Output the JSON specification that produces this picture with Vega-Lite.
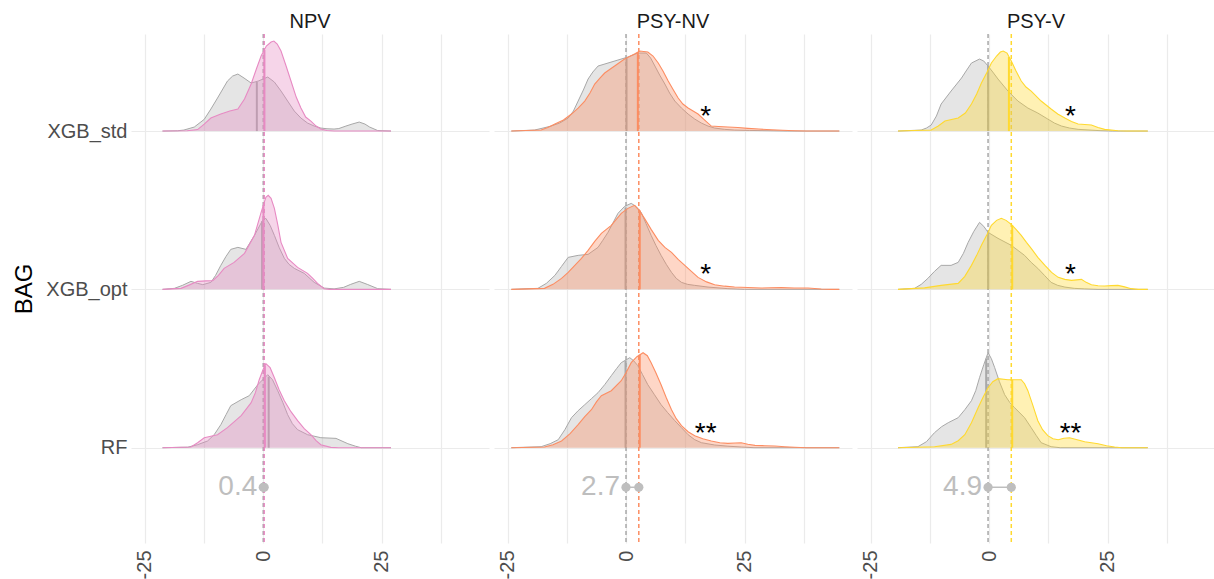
{
  "$schema": "https://vega.github.io/schema/vega-lite/v6.json",
  "padding": {"left": 12, "top": 12, "right": 0, "bottom": 0},
  "background": "white",
  "config": {"font": "Liberation Sans", "view": {"stroke": null}},
  "data": {"values": [
    {"t":"mean","p":"NPV","g":"control","x":0.05},
    {"t":"mean","p":"NPV","g":"NPV","x":0.25},
    {"t":"mean","p":"PSY-NV","g":"control","x":0},
    {"t":"mean","p":"PSY-NV","g":"PSY-NV","x":2.7},
    {"t":"mean","p":"PSY-V","g":"control","x":-0.2},
    {"t":"mean","p":"PSY-V","g":"PSY-V","x":4.7},
    {"t":"diff","p":"NPV","x":0.05,"x2":0.25,"lab":"0.4"},
    {"t":"diff","p":"PSY-NV","x":0,"x2":2.7,"lab":"2.7"},
    {"t":"diff","p":"PSY-V","x":-0.2,"x2":4.7,"lab":"4.9"},
    {"t":"sig","p":"PSY-NV","m":"XGB_std","x":16.8,"lab":"*"},
    {"t":"sig","p":"PSY-NV","m":"XGB_opt","x":16.8,"lab":"*"},
    {"t":"sig","p":"PSY-NV","m":"RF","x":16.8,"lab":"**"},
    {"t":"sig","p":"PSY-V","m":"XGB_std","x":17.2,"lab":"*"},
    {"t":"sig","p":"PSY-V","m":"XGB_opt","x":17.2,"lab":"*"},
    {"t":"sig","p":"PSY-V","m":"RF","x":17.2,"lab":"**"},
    {"t":"med","p":"NPV","m":"XGB_std","g":"control","x":-1.3,"d":49},
    {"t":"med","p":"NPV","m":"XGB_std","g":"NPV","x":0.3,"d":81},
    {"t":"med","p":"NPV","m":"XGB_opt","g":"control","x":-0.2,"d":68},
    {"t":"med","p":"NPV","m":"XGB_opt","g":"NPV","x":0.1,"d":84},
    {"t":"med","p":"NPV","m":"RF","g":"control","x":1.2,"d":71},
    {"t":"med","p":"NPV","m":"RF","g":"NPV","x":0.4,"d":82},
    {"t":"med","p":"PSY-NV","m":"XGB_std","g":"control","x":0.1,"d":73},
    {"t":"med","p":"PSY-NV","m":"XGB_std","g":"PSY-NV","x":2.5,"d":79},
    {"t":"med","p":"PSY-NV","m":"XGB_opt","g":"control","x":-0.1,"d":82},
    {"t":"med","p":"PSY-NV","m":"XGB_opt","g":"PSY-NV","x":2.9,"d":79},
    {"t":"med","p":"PSY-NV","m":"RF","g":"control","x":-0.1,"d":87},
    {"t":"med","p":"PSY-NV","m":"RF","g":"PSY-NV","x":2.9,"d":93},
    {"t":"med","p":"PSY-V","m":"XGB_std","g":"control","x":-0.2,"d":65},
    {"t":"med","p":"PSY-V","m":"XGB_std","g":"PSY-V","x":4.2,"d":74},
    {"t":"med","p":"PSY-V","m":"XGB_opt","g":"control","x":-0.2,"d":57},
    {"t":"med","p":"PSY-V","m":"XGB_opt","g":"PSY-V","x":4.9,"d":64},
    {"t":"med","p":"PSY-V","m":"RF","g":"control","x":-0.6,"d":89},
    {"t":"med","p":"PSY-V","m":"RF","g":"PSY-V","x":4.9,"d":68},

    {"t":"d","p":"NPV","m":"XGB_std","g":"control","x":-21.2,"d":0},
    {"t":"d","p":"NPV","m":"XGB_std","g":"control","x":-18,"d":0.3},
    {"t":"d","p":"NPV","m":"XGB_std","g":"control","x":-16.7,"d":1},
    {"t":"d","p":"NPV","m":"XGB_std","g":"control","x":-14.5,"d":4},
    {"t":"d","p":"NPV","m":"XGB_std","g":"control","x":-12.4,"d":11.7},
    {"t":"d","p":"NPV","m":"XGB_std","g":"control","x":-11,"d":22},
    {"t":"d","p":"NPV","m":"XGB_std","g":"control","x":-9.6,"d":33},
    {"t":"d","p":"NPV","m":"XGB_std","g":"control","x":-7.5,"d":50},
    {"t":"d","p":"NPV","m":"XGB_std","g":"control","x":-6.4,"d":55},
    {"t":"d","p":"NPV","m":"XGB_std","g":"control","x":-5.3,"d":57},
    {"t":"d","p":"NPV","m":"XGB_std","g":"control","x":-4,"d":53},
    {"t":"d","p":"NPV","m":"XGB_std","g":"control","x":-2.5,"d":48},
    {"t":"d","p":"NPV","m":"XGB_std","g":"control","x":-1,"d":50},
    {"t":"d","p":"NPV","m":"XGB_std","g":"control","x":1,"d":54},
    {"t":"d","p":"NPV","m":"XGB_std","g":"control","x":2.4,"d":49},
    {"t":"d","p":"NPV","m":"XGB_std","g":"control","x":3.8,"d":40},
    {"t":"d","p":"NPV","m":"XGB_std","g":"control","x":5.2,"d":30},
    {"t":"d","p":"NPV","m":"XGB_std","g":"control","x":6.6,"d":20},
    {"t":"d","p":"NPV","m":"XGB_std","g":"control","x":8,"d":13},
    {"t":"d","p":"NPV","m":"XGB_std","g":"control","x":9.4,"d":8},
    {"t":"d","p":"NPV","m":"XGB_std","g":"control","x":10.8,"d":5},
    {"t":"d","p":"NPV","m":"XGB_std","g":"control","x":12.2,"d":3},
    {"t":"d","p":"NPV","m":"XGB_std","g":"control","x":13.5,"d":2.3},
    {"t":"d","p":"NPV","m":"XGB_std","g":"control","x":15,"d":2},
    {"t":"d","p":"NPV","m":"XGB_std","g":"control","x":16,"d":2.5},
    {"t":"d","p":"NPV","m":"XGB_std","g":"control","x":17.5,"d":5},
    {"t":"d","p":"NPV","m":"XGB_std","g":"control","x":18.8,"d":7},
    {"t":"d","p":"NPV","m":"XGB_std","g":"control","x":20.3,"d":9},
    {"t":"d","p":"NPV","m":"XGB_std","g":"control","x":21.5,"d":7},
    {"t":"d","p":"NPV","m":"XGB_std","g":"control","x":22.5,"d":4},
    {"t":"d","p":"NPV","m":"XGB_std","g":"control","x":24.2,"d":0.5},
    {"t":"d","p":"NPV","m":"XGB_std","g":"control","x":27,"d":0},

    {"t":"d","p":"NPV","m":"XGB_std","g":"NPV","x":-21.2,"d":0},
    {"t":"d","p":"NPV","m":"XGB_std","g":"NPV","x":-16,"d":0.3},
    {"t":"d","p":"NPV","m":"XGB_std","g":"NPV","x":-13.8,"d":1.5},
    {"t":"d","p":"NPV","m":"XGB_std","g":"NPV","x":-12.4,"d":7},
    {"t":"d","p":"NPV","m":"XGB_std","g":"NPV","x":-11,"d":13},
    {"t":"d","p":"NPV","m":"XGB_std","g":"NPV","x":-8.9,"d":17},
    {"t":"d","p":"NPV","m":"XGB_std","g":"NPV","x":-7,"d":20},
    {"t":"d","p":"NPV","m":"XGB_std","g":"NPV","x":-5.3,"d":22},
    {"t":"d","p":"NPV","m":"XGB_std","g":"NPV","x":-3.9,"d":32},
    {"t":"d","p":"NPV","m":"XGB_std","g":"NPV","x":-2.5,"d":47},
    {"t":"d","p":"NPV","m":"XGB_std","g":"NPV","x":-1.4,"d":62},
    {"t":"d","p":"NPV","m":"XGB_std","g":"NPV","x":-0.4,"d":75},
    {"t":"d","p":"NPV","m":"XGB_std","g":"NPV","x":0.7,"d":85},
    {"t":"d","p":"NPV","m":"XGB_std","g":"NPV","x":1.7,"d":89},
    {"t":"d","p":"NPV","m":"XGB_std","g":"NPV","x":2.3,"d":90},
    {"t":"d","p":"NPV","m":"XGB_std","g":"NPV","x":3,"d":87},
    {"t":"d","p":"NPV","m":"XGB_std","g":"NPV","x":3.8,"d":80},
    {"t":"d","p":"NPV","m":"XGB_std","g":"NPV","x":4.8,"d":66},
    {"t":"d","p":"NPV","m":"XGB_std","g":"NPV","x":5.9,"d":50},
    {"t":"d","p":"NPV","m":"XGB_std","g":"NPV","x":7,"d":34},
    {"t":"d","p":"NPV","m":"XGB_std","g":"NPV","x":8,"d":23},
    {"t":"d","p":"NPV","m":"XGB_std","g":"NPV","x":9,"d":14},
    {"t":"d","p":"NPV","m":"XGB_std","g":"NPV","x":10.1,"d":10},
    {"t":"d","p":"NPV","m":"XGB_std","g":"NPV","x":11.2,"d":5},
    {"t":"d","p":"NPV","m":"XGB_std","g":"NPV","x":12.2,"d":2},
    {"t":"d","p":"NPV","m":"XGB_std","g":"NPV","x":13.5,"d":0.5},
    {"t":"d","p":"NPV","m":"XGB_std","g":"NPV","x":15,"d":0},
    {"t":"d","p":"NPV","m":"XGB_std","g":"NPV","x":27,"d":0},

    {"t":"d","p":"NPV","m":"XGB_opt","g":"control","x":-21.2,"d":0},
    {"t":"d","p":"NPV","m":"XGB_opt","g":"control","x":-18.7,"d":1},
    {"t":"d","p":"NPV","m":"XGB_opt","g":"control","x":-17,"d":4},
    {"t":"d","p":"NPV","m":"XGB_opt","g":"control","x":-15.2,"d":8},
    {"t":"d","p":"NPV","m":"XGB_opt","g":"control","x":-13.8,"d":6},
    {"t":"d","p":"NPV","m":"XGB_opt","g":"control","x":-12.7,"d":4.7},
    {"t":"d","p":"NPV","m":"XGB_opt","g":"control","x":-11,"d":7},
    {"t":"d","p":"NPV","m":"XGB_opt","g":"control","x":-10,"d":14},
    {"t":"d","p":"NPV","m":"XGB_opt","g":"control","x":-8.9,"d":24},
    {"t":"d","p":"NPV","m":"XGB_opt","g":"control","x":-7.8,"d":33},
    {"t":"d","p":"NPV","m":"XGB_opt","g":"control","x":-6.8,"d":40},
    {"t":"d","p":"NPV","m":"XGB_opt","g":"control","x":-5.3,"d":42},
    {"t":"d","p":"NPV","m":"XGB_opt","g":"control","x":-3.6,"d":40},
    {"t":"d","p":"NPV","m":"XGB_opt","g":"control","x":-1.8,"d":54},
    {"t":"d","p":"NPV","m":"XGB_opt","g":"control","x":-0.1,"d":69},
    {"t":"d","p":"NPV","m":"XGB_opt","g":"control","x":0.6,"d":71},
    {"t":"d","p":"NPV","m":"XGB_opt","g":"control","x":1.5,"d":64},
    {"t":"d","p":"NPV","m":"XGB_opt","g":"control","x":2.4,"d":54},
    {"t":"d","p":"NPV","m":"XGB_opt","g":"control","x":3.4,"d":42},
    {"t":"d","p":"NPV","m":"XGB_opt","g":"control","x":4.5,"d":31},
    {"t":"d","p":"NPV","m":"XGB_opt","g":"control","x":5.5,"d":25},
    {"t":"d","p":"NPV","m":"XGB_opt","g":"control","x":6.6,"d":21},
    {"t":"d","p":"NPV","m":"XGB_opt","g":"control","x":8.7,"d":16},
    {"t":"d","p":"NPV","m":"XGB_opt","g":"control","x":10.8,"d":7},
    {"t":"d","p":"NPV","m":"XGB_opt","g":"control","x":12.9,"d":1.3},
    {"t":"d","p":"NPV","m":"XGB_opt","g":"control","x":15,"d":0.5},
    {"t":"d","p":"NPV","m":"XGB_opt","g":"control","x":17,"d":2},
    {"t":"d","p":"NPV","m":"XGB_opt","g":"control","x":18.5,"d":5},
    {"t":"d","p":"NPV","m":"XGB_opt","g":"control","x":20.3,"d":8},
    {"t":"d","p":"NPV","m":"XGB_opt","g":"control","x":22,"d":5},
    {"t":"d","p":"NPV","m":"XGB_opt","g":"control","x":24.2,"d":0.7},
    {"t":"d","p":"NPV","m":"XGB_opt","g":"control","x":27,"d":0},

    {"t":"d","p":"NPV","m":"XGB_opt","g":"NPV","x":-21.2,"d":0},
    {"t":"d","p":"NPV","m":"XGB_opt","g":"NPV","x":-17.3,"d":1},
    {"t":"d","p":"NPV","m":"XGB_opt","g":"NPV","x":-15.5,"d":4.5},
    {"t":"d","p":"NPV","m":"XGB_opt","g":"NPV","x":-13.8,"d":8},
    {"t":"d","p":"NPV","m":"XGB_opt","g":"NPV","x":-12,"d":8.5},
    {"t":"d","p":"NPV","m":"XGB_opt","g":"NPV","x":-10.6,"d":8.7},
    {"t":"d","p":"NPV","m":"XGB_opt","g":"NPV","x":-9.4,"d":14},
    {"t":"d","p":"NPV","m":"XGB_opt","g":"NPV","x":-8.2,"d":21},
    {"t":"d","p":"NPV","m":"XGB_opt","g":"NPV","x":-6.1,"d":27},
    {"t":"d","p":"NPV","m":"XGB_opt","g":"NPV","x":-3.9,"d":36},
    {"t":"d","p":"NPV","m":"XGB_opt","g":"NPV","x":-1.8,"d":54},
    {"t":"d","p":"NPV","m":"XGB_opt","g":"NPV","x":-0.4,"d":77},
    {"t":"d","p":"NPV","m":"XGB_opt","g":"NPV","x":0.6,"d":92},
    {"t":"d","p":"NPV","m":"XGB_opt","g":"NPV","x":1.1,"d":94},
    {"t":"d","p":"NPV","m":"XGB_opt","g":"NPV","x":1.7,"d":91},
    {"t":"d","p":"NPV","m":"XGB_opt","g":"NPV","x":2.4,"d":81},
    {"t":"d","p":"NPV","m":"XGB_opt","g":"NPV","x":3.1,"d":65},
    {"t":"d","p":"NPV","m":"XGB_opt","g":"NPV","x":3.8,"d":47},
    {"t":"d","p":"NPV","m":"XGB_opt","g":"NPV","x":5.2,"d":31},
    {"t":"d","p":"NPV","m":"XGB_opt","g":"NPV","x":7.3,"d":22},
    {"t":"d","p":"NPV","m":"XGB_opt","g":"NPV","x":9.4,"d":16},
    {"t":"d","p":"NPV","m":"XGB_opt","g":"NPV","x":10.5,"d":11},
    {"t":"d","p":"NPV","m":"XGB_opt","g":"NPV","x":11.5,"d":6},
    {"t":"d","p":"NPV","m":"XGB_opt","g":"NPV","x":12.9,"d":0.7},
    {"t":"d","p":"NPV","m":"XGB_opt","g":"NPV","x":14,"d":0},
    {"t":"d","p":"NPV","m":"XGB_opt","g":"NPV","x":27,"d":0},

    {"t":"d","p":"NPV","m":"RF","g":"control","x":-21.2,"d":0},
    {"t":"d","p":"NPV","m":"RF","g":"control","x":-15.9,"d":0.5},
    {"t":"d","p":"NPV","m":"RF","g":"control","x":-13.8,"d":3},
    {"t":"d","p":"NPV","m":"RF","g":"control","x":-11.7,"d":6.7},
    {"t":"d","p":"NPV","m":"RF","g":"control","x":-10.3,"d":13},
    {"t":"d","p":"NPV","m":"RF","g":"control","x":-8.9,"d":23},
    {"t":"d","p":"NPV","m":"RF","g":"control","x":-7.8,"d":33},
    {"t":"d","p":"NPV","m":"RF","g":"control","x":-6.8,"d":42},
    {"t":"d","p":"NPV","m":"RF","g":"control","x":-4.6,"d":48},
    {"t":"d","p":"NPV","m":"RF","g":"control","x":-2.9,"d":52},
    {"t":"d","p":"NPV","m":"RF","g":"control","x":-1.1,"d":63},
    {"t":"d","p":"NPV","m":"RF","g":"control","x":1,"d":73},
    {"t":"d","p":"NPV","m":"RF","g":"control","x":2,"d":68},
    {"t":"d","p":"NPV","m":"RF","g":"control","x":3.1,"d":57},
    {"t":"d","p":"NPV","m":"RF","g":"control","x":4.2,"d":45},
    {"t":"d","p":"NPV","m":"RF","g":"control","x":5.2,"d":33},
    {"t":"d","p":"NPV","m":"RF","g":"control","x":6.2,"d":24},
    {"t":"d","p":"NPV","m":"RF","g":"control","x":7.3,"d":18},
    {"t":"d","p":"NPV","m":"RF","g":"control","x":9.4,"d":13},
    {"t":"d","p":"NPV","m":"RF","g":"control","x":12.2,"d":10},
    {"t":"d","p":"NPV","m":"RF","g":"control","x":15.4,"d":9.3},
    {"t":"d","p":"NPV","m":"RF","g":"control","x":17.9,"d":4},
    {"t":"d","p":"NPV","m":"RF","g":"control","x":19.5,"d":1.5},
    {"t":"d","p":"NPV","m":"RF","g":"control","x":20.7,"d":0},
    {"t":"d","p":"NPV","m":"RF","g":"control","x":27,"d":0},

    {"t":"d","p":"NPV","m":"RF","g":"NPV","x":-21.2,"d":0},
    {"t":"d","p":"NPV","m":"RF","g":"NPV","x":-15.2,"d":0.7},
    {"t":"d","p":"NPV","m":"RF","g":"NPV","x":-13.8,"d":5},
    {"t":"d","p":"NPV","m":"RF","g":"NPV","x":-12.4,"d":10},
    {"t":"d","p":"NPV","m":"RF","g":"NPV","x":-9.6,"d":13},
    {"t":"d","p":"NPV","m":"RF","g":"NPV","x":-7.5,"d":20},
    {"t":"d","p":"NPV","m":"RF","g":"NPV","x":-4.6,"d":32},
    {"t":"d","p":"NPV","m":"RF","g":"NPV","x":-2.5,"d":45},
    {"t":"d","p":"NPV","m":"RF","g":"NPV","x":-1.6,"d":55},
    {"t":"d","p":"NPV","m":"RF","g":"NPV","x":-0.8,"d":68},
    {"t":"d","p":"NPV","m":"RF","g":"NPV","x":0,"d":78},
    {"t":"d","p":"NPV","m":"RF","g":"NPV","x":0.6,"d":84},
    {"t":"d","p":"NPV","m":"RF","g":"NPV","x":1.5,"d":80},
    {"t":"d","p":"NPV","m":"RF","g":"NPV","x":2.4,"d":70},
    {"t":"d","p":"NPV","m":"RF","g":"NPV","x":3.4,"d":58},
    {"t":"d","p":"NPV","m":"RF","g":"NPV","x":4.5,"d":47},
    {"t":"d","p":"NPV","m":"RF","g":"NPV","x":5.9,"d":36},
    {"t":"d","p":"NPV","m":"RF","g":"NPV","x":7.3,"d":27},
    {"t":"d","p":"NPV","m":"RF","g":"NPV","x":8.7,"d":19},
    {"t":"d","p":"NPV","m":"RF","g":"NPV","x":10.1,"d":13},
    {"t":"d","p":"NPV","m":"RF","g":"NPV","x":11.2,"d":7},
    {"t":"d","p":"NPV","m":"RF","g":"NPV","x":12.2,"d":3},
    {"t":"d","p":"NPV","m":"RF","g":"NPV","x":14.3,"d":0.3},
    {"t":"d","p":"NPV","m":"RF","g":"NPV","x":16,"d":0},
    {"t":"d","p":"NPV","m":"RF","g":"NPV","x":27,"d":0},

    {"t":"d","p":"PSY-NV","m":"XGB_std","g":"control","x":-24.2,"d":0},
    {"t":"d","p":"PSY-NV","m":"XGB_std","g":"control","x":-19.3,"d":1},
    {"t":"d","p":"PSY-NV","m":"XGB_std","g":"control","x":-17.5,"d":3},
    {"t":"d","p":"PSY-NV","m":"XGB_std","g":"control","x":-15.8,"d":5},
    {"t":"d","p":"PSY-NV","m":"XGB_std","g":"control","x":-14,"d":8},
    {"t":"d","p":"PSY-NV","m":"XGB_std","g":"control","x":-12.2,"d":13},
    {"t":"d","p":"PSY-NV","m":"XGB_std","g":"control","x":-11.1,"d":20},
    {"t":"d","p":"PSY-NV","m":"XGB_std","g":"control","x":-10.1,"d":30},
    {"t":"d","p":"PSY-NV","m":"XGB_std","g":"control","x":-9,"d":41},
    {"t":"d","p":"PSY-NV","m":"XGB_std","g":"control","x":-8,"d":52},
    {"t":"d","p":"PSY-NV","m":"XGB_std","g":"control","x":-7,"d":59},
    {"t":"d","p":"PSY-NV","m":"XGB_std","g":"control","x":-5.9,"d":65},
    {"t":"d","p":"PSY-NV","m":"XGB_std","g":"control","x":-3.8,"d":68},
    {"t":"d","p":"PSY-NV","m":"XGB_std","g":"control","x":-1.7,"d":71},
    {"t":"d","p":"PSY-NV","m":"XGB_std","g":"control","x":0.4,"d":74},
    {"t":"d","p":"PSY-NV","m":"XGB_std","g":"control","x":2.5,"d":78},
    {"t":"d","p":"PSY-NV","m":"XGB_std","g":"control","x":4.3,"d":78},
    {"t":"d","p":"PSY-NV","m":"XGB_std","g":"control","x":5.2,"d":73},
    {"t":"d","p":"PSY-NV","m":"XGB_std","g":"control","x":6.1,"d":65},
    {"t":"d","p":"PSY-NV","m":"XGB_std","g":"control","x":7.1,"d":56},
    {"t":"d","p":"PSY-NV","m":"XGB_std","g":"control","x":8.2,"d":47},
    {"t":"d","p":"PSY-NV","m":"XGB_std","g":"control","x":9.2,"d":38},
    {"t":"d","p":"PSY-NV","m":"XGB_std","g":"control","x":10.3,"d":30},
    {"t":"d","p":"PSY-NV","m":"XGB_std","g":"control","x":11.7,"d":23},
    {"t":"d","p":"PSY-NV","m":"XGB_std","g":"control","x":13.1,"d":17},
    {"t":"d","p":"PSY-NV","m":"XGB_std","g":"control","x":14.5,"d":12},
    {"t":"d","p":"PSY-NV","m":"XGB_std","g":"control","x":15.9,"d":8},
    {"t":"d","p":"PSY-NV","m":"XGB_std","g":"control","x":17.3,"d":5},
    {"t":"d","p":"PSY-NV","m":"XGB_std","g":"control","x":18.7,"d":3},
    {"t":"d","p":"PSY-NV","m":"XGB_std","g":"control","x":20.8,"d":1.7},
    {"t":"d","p":"PSY-NV","m":"XGB_std","g":"control","x":22.9,"d":1},
    {"t":"d","p":"PSY-NV","m":"XGB_std","g":"control","x":26,"d":0.6},
    {"t":"d","p":"PSY-NV","m":"XGB_std","g":"control","x":30.6,"d":0.3},
    {"t":"d","p":"PSY-NV","m":"XGB_std","g":"control","x":34,"d":0},
    {"t":"d","p":"PSY-NV","m":"XGB_std","g":"control","x":45,"d":0},

    {"t":"d","p":"PSY-NV","m":"XGB_std","g":"PSY-NV","x":-24.2,"d":0},
    {"t":"d","p":"PSY-NV","m":"XGB_std","g":"PSY-NV","x":-17.9,"d":1},
    {"t":"d","p":"PSY-NV","m":"XGB_std","g":"PSY-NV","x":-16.5,"d":3.5},
    {"t":"d","p":"PSY-NV","m":"XGB_std","g":"PSY-NV","x":-15,"d":7},
    {"t":"d","p":"PSY-NV","m":"XGB_std","g":"PSY-NV","x":-13.2,"d":11},
    {"t":"d","p":"PSY-NV","m":"XGB_std","g":"PSY-NV","x":-11.5,"d":17},
    {"t":"d","p":"PSY-NV","m":"XGB_std","g":"PSY-NV","x":-10.1,"d":23},
    {"t":"d","p":"PSY-NV","m":"XGB_std","g":"PSY-NV","x":-8.7,"d":30},
    {"t":"d","p":"PSY-NV","m":"XGB_std","g":"PSY-NV","x":-7.6,"d":38},
    {"t":"d","p":"PSY-NV","m":"XGB_std","g":"PSY-NV","x":-6.6,"d":47},
    {"t":"d","p":"PSY-NV","m":"XGB_std","g":"PSY-NV","x":-5.5,"d":53},
    {"t":"d","p":"PSY-NV","m":"XGB_std","g":"PSY-NV","x":-4.5,"d":58},
    {"t":"d","p":"PSY-NV","m":"XGB_std","g":"PSY-NV","x":-2.4,"d":65},
    {"t":"d","p":"PSY-NV","m":"XGB_std","g":"PSY-NV","x":-0.3,"d":72},
    {"t":"d","p":"PSY-NV","m":"XGB_std","g":"PSY-NV","x":1.8,"d":77},
    {"t":"d","p":"PSY-NV","m":"XGB_std","g":"PSY-NV","x":2.9,"d":80},
    {"t":"d","p":"PSY-NV","m":"XGB_std","g":"PSY-NV","x":4.6,"d":79},
    {"t":"d","p":"PSY-NV","m":"XGB_std","g":"PSY-NV","x":5.7,"d":75},
    {"t":"d","p":"PSY-NV","m":"XGB_std","g":"PSY-NV","x":6.8,"d":68},
    {"t":"d","p":"PSY-NV","m":"XGB_std","g":"PSY-NV","x":7.8,"d":60},
    {"t":"d","p":"PSY-NV","m":"XGB_std","g":"PSY-NV","x":8.9,"d":50},
    {"t":"d","p":"PSY-NV","m":"XGB_std","g":"PSY-NV","x":10,"d":41},
    {"t":"d","p":"PSY-NV","m":"XGB_std","g":"PSY-NV","x":11,"d":33},
    {"t":"d","p":"PSY-NV","m":"XGB_std","g":"PSY-NV","x":12,"d":27},
    {"t":"d","p":"PSY-NV","m":"XGB_std","g":"PSY-NV","x":13.1,"d":23},
    {"t":"d","p":"PSY-NV","m":"XGB_std","g":"PSY-NV","x":15.2,"d":17},
    {"t":"d","p":"PSY-NV","m":"XGB_std","g":"PSY-NV","x":16.6,"d":11},
    {"t":"d","p":"PSY-NV","m":"XGB_std","g":"PSY-NV","x":18,"d":5},
    {"t":"d","p":"PSY-NV","m":"XGB_std","g":"PSY-NV","x":19.5,"d":4.5},
    {"t":"d","p":"PSY-NV","m":"XGB_std","g":"PSY-NV","x":21.5,"d":4},
    {"t":"d","p":"PSY-NV","m":"XGB_std","g":"PSY-NV","x":23.6,"d":3.5},
    {"t":"d","p":"PSY-NV","m":"XGB_std","g":"PSY-NV","x":25.7,"d":2.7},
    {"t":"d","p":"PSY-NV","m":"XGB_std","g":"PSY-NV","x":28,"d":2},
    {"t":"d","p":"PSY-NV","m":"XGB_std","g":"PSY-NV","x":30.7,"d":1.3},
    {"t":"d","p":"PSY-NV","m":"XGB_std","g":"PSY-NV","x":33,"d":0.8},
    {"t":"d","p":"PSY-NV","m":"XGB_std","g":"PSY-NV","x":35.6,"d":0.3},
    {"t":"d","p":"PSY-NV","m":"XGB_std","g":"PSY-NV","x":38,"d":0},
    {"t":"d","p":"PSY-NV","m":"XGB_std","g":"PSY-NV","x":45,"d":0},

    {"t":"d","p":"PSY-NV","m":"XGB_opt","g":"control","x":-24.2,"d":0},
    {"t":"d","p":"PSY-NV","m":"XGB_opt","g":"control","x":-18.6,"d":1},
    {"t":"d","p":"PSY-NV","m":"XGB_opt","g":"control","x":-16.8,"d":6},
    {"t":"d","p":"PSY-NV","m":"XGB_opt","g":"control","x":-15,"d":14},
    {"t":"d","p":"PSY-NV","m":"XGB_opt","g":"control","x":-13.6,"d":23},
    {"t":"d","p":"PSY-NV","m":"XGB_opt","g":"control","x":-12.2,"d":32},
    {"t":"d","p":"PSY-NV","m":"XGB_opt","g":"control","x":-10.1,"d":34},
    {"t":"d","p":"PSY-NV","m":"XGB_opt","g":"control","x":-8,"d":35},
    {"t":"d","p":"PSY-NV","m":"XGB_opt","g":"control","x":-5.9,"d":42},
    {"t":"d","p":"PSY-NV","m":"XGB_opt","g":"control","x":-4.9,"d":49},
    {"t":"d","p":"PSY-NV","m":"XGB_opt","g":"control","x":-3.8,"d":57},
    {"t":"d","p":"PSY-NV","m":"XGB_opt","g":"control","x":-2.8,"d":66},
    {"t":"d","p":"PSY-NV","m":"XGB_opt","g":"control","x":-1.7,"d":76},
    {"t":"d","p":"PSY-NV","m":"XGB_opt","g":"control","x":-0.3,"d":83},
    {"t":"d","p":"PSY-NV","m":"XGB_opt","g":"control","x":1.1,"d":86},
    {"t":"d","p":"PSY-NV","m":"XGB_opt","g":"control","x":2.1,"d":83},
    {"t":"d","p":"PSY-NV","m":"XGB_opt","g":"control","x":3.2,"d":77},
    {"t":"d","p":"PSY-NV","m":"XGB_opt","g":"control","x":4.2,"d":66},
    {"t":"d","p":"PSY-NV","m":"XGB_opt","g":"control","x":5.3,"d":54},
    {"t":"d","p":"PSY-NV","m":"XGB_opt","g":"control","x":6.3,"d":44},
    {"t":"d","p":"PSY-NV","m":"XGB_opt","g":"control","x":7.4,"d":34},
    {"t":"d","p":"PSY-NV","m":"XGB_opt","g":"control","x":8.5,"d":25},
    {"t":"d","p":"PSY-NV","m":"XGB_opt","g":"control","x":9.6,"d":17},
    {"t":"d","p":"PSY-NV","m":"XGB_opt","g":"control","x":10.6,"d":11},
    {"t":"d","p":"PSY-NV","m":"XGB_opt","g":"control","x":11.7,"d":7},
    {"t":"d","p":"PSY-NV","m":"XGB_opt","g":"control","x":13,"d":5},
    {"t":"d","p":"PSY-NV","m":"XGB_opt","g":"control","x":14.5,"d":4},
    {"t":"d","p":"PSY-NV","m":"XGB_opt","g":"control","x":17.3,"d":2.3},
    {"t":"d","p":"PSY-NV","m":"XGB_opt","g":"control","x":21.5,"d":0.7},
    {"t":"d","p":"PSY-NV","m":"XGB_opt","g":"control","x":25,"d":0},
    {"t":"d","p":"PSY-NV","m":"XGB_opt","g":"control","x":45,"d":0},

    {"t":"d","p":"PSY-NV","m":"XGB_opt","g":"PSY-NV","x":-24.2,"d":0},
    {"t":"d","p":"PSY-NV","m":"XGB_opt","g":"PSY-NV","x":-17.2,"d":1},
    {"t":"d","p":"PSY-NV","m":"XGB_opt","g":"PSY-NV","x":-15.4,"d":5},
    {"t":"d","p":"PSY-NV","m":"XGB_opt","g":"PSY-NV","x":-13.6,"d":11},
    {"t":"d","p":"PSY-NV","m":"XGB_opt","g":"PSY-NV","x":-12.2,"d":17},
    {"t":"d","p":"PSY-NV","m":"XGB_opt","g":"PSY-NV","x":-10.8,"d":24},
    {"t":"d","p":"PSY-NV","m":"XGB_opt","g":"PSY-NV","x":-9.4,"d":31},
    {"t":"d","p":"PSY-NV","m":"XGB_opt","g":"PSY-NV","x":-8,"d":39},
    {"t":"d","p":"PSY-NV","m":"XGB_opt","g":"PSY-NV","x":-6.6,"d":48},
    {"t":"d","p":"PSY-NV","m":"XGB_opt","g":"PSY-NV","x":-5.2,"d":56},
    {"t":"d","p":"PSY-NV","m":"XGB_opt","g":"PSY-NV","x":-3.1,"d":64},
    {"t":"d","p":"PSY-NV","m":"XGB_opt","g":"PSY-NV","x":-1,"d":76},
    {"t":"d","p":"PSY-NV","m":"XGB_opt","g":"PSY-NV","x":0.4,"d":81},
    {"t":"d","p":"PSY-NV","m":"XGB_opt","g":"PSY-NV","x":1.8,"d":84},
    {"t":"d","p":"PSY-NV","m":"XGB_opt","g":"PSY-NV","x":2.8,"d":79},
    {"t":"d","p":"PSY-NV","m":"XGB_opt","g":"PSY-NV","x":3.9,"d":71},
    {"t":"d","p":"PSY-NV","m":"XGB_opt","g":"PSY-NV","x":5.3,"d":60},
    {"t":"d","p":"PSY-NV","m":"XGB_opt","g":"PSY-NV","x":6.8,"d":49},
    {"t":"d","p":"PSY-NV","m":"XGB_opt","g":"PSY-NV","x":8.2,"d":42},
    {"t":"d","p":"PSY-NV","m":"XGB_opt","g":"PSY-NV","x":9.6,"d":37},
    {"t":"d","p":"PSY-NV","m":"XGB_opt","g":"PSY-NV","x":11,"d":30},
    {"t":"d","p":"PSY-NV","m":"XGB_opt","g":"PSY-NV","x":12.4,"d":24},
    {"t":"d","p":"PSY-NV","m":"XGB_opt","g":"PSY-NV","x":13.8,"d":18},
    {"t":"d","p":"PSY-NV","m":"XGB_opt","g":"PSY-NV","x":15.2,"d":12},
    {"t":"d","p":"PSY-NV","m":"XGB_opt","g":"PSY-NV","x":17,"d":7.5},
    {"t":"d","p":"PSY-NV","m":"XGB_opt","g":"PSY-NV","x":18.7,"d":4.7},
    {"t":"d","p":"PSY-NV","m":"XGB_opt","g":"PSY-NV","x":20.8,"d":3.2},
    {"t":"d","p":"PSY-NV","m":"XGB_opt","g":"PSY-NV","x":22.9,"d":2.3},
    {"t":"d","p":"PSY-NV","m":"XGB_opt","g":"PSY-NV","x":25.7,"d":1.8},
    {"t":"d","p":"PSY-NV","m":"XGB_opt","g":"PSY-NV","x":28.5,"d":1.3},
    {"t":"d","p":"PSY-NV","m":"XGB_opt","g":"PSY-NV","x":30.5,"d":1.6},
    {"t":"d","p":"PSY-NV","m":"XGB_opt","g":"PSY-NV","x":32.8,"d":1.7},
    {"t":"d","p":"PSY-NV","m":"XGB_opt","g":"PSY-NV","x":35.5,"d":1.4},
    {"t":"d","p":"PSY-NV","m":"XGB_opt","g":"PSY-NV","x":38.4,"d":1.3},
    {"t":"d","p":"PSY-NV","m":"XGB_opt","g":"PSY-NV","x":41.2,"d":0.3},
    {"t":"d","p":"PSY-NV","m":"XGB_opt","g":"PSY-NV","x":43,"d":0},
    {"t":"d","p":"PSY-NV","m":"XGB_opt","g":"PSY-NV","x":45,"d":0},

    {"t":"d","p":"PSY-NV","m":"RF","g":"control","x":-24.2,"d":0},
    {"t":"d","p":"PSY-NV","m":"RF","g":"control","x":-17.9,"d":1},
    {"t":"d","p":"PSY-NV","m":"RF","g":"control","x":-16,"d":4},
    {"t":"d","p":"PSY-NV","m":"RF","g":"control","x":-14.3,"d":8},
    {"t":"d","p":"PSY-NV","m":"RF","g":"control","x":-12.9,"d":18},
    {"t":"d","p":"PSY-NV","m":"RF","g":"control","x":-11.5,"d":30},
    {"t":"d","p":"PSY-NV","m":"RF","g":"control","x":-10.1,"d":37},
    {"t":"d","p":"PSY-NV","m":"RF","g":"control","x":-8.7,"d":43},
    {"t":"d","p":"PSY-NV","m":"RF","g":"control","x":-7.3,"d":49},
    {"t":"d","p":"PSY-NV","m":"RF","g":"control","x":-5.9,"d":55},
    {"t":"d","p":"PSY-NV","m":"RF","g":"control","x":-4.5,"d":63},
    {"t":"d","p":"PSY-NV","m":"RF","g":"control","x":-3.1,"d":72},
    {"t":"d","p":"PSY-NV","m":"RF","g":"control","x":-2,"d":79},
    {"t":"d","p":"PSY-NV","m":"RF","g":"control","x":-1,"d":85},
    {"t":"d","p":"PSY-NV","m":"RF","g":"control","x":0.8,"d":90},
    {"t":"d","p":"PSY-NV","m":"RF","g":"control","x":1.6,"d":87},
    {"t":"d","p":"PSY-NV","m":"RF","g":"control","x":2.5,"d":82},
    {"t":"d","p":"PSY-NV","m":"RF","g":"control","x":3.5,"d":73},
    {"t":"d","p":"PSY-NV","m":"RF","g":"control","x":4.6,"d":63},
    {"t":"d","p":"PSY-NV","m":"RF","g":"control","x":6,"d":53},
    {"t":"d","p":"PSY-NV","m":"RF","g":"control","x":7.4,"d":43},
    {"t":"d","p":"PSY-NV","m":"RF","g":"control","x":8.8,"d":35},
    {"t":"d","p":"PSY-NV","m":"RF","g":"control","x":10.3,"d":27},
    {"t":"d","p":"PSY-NV","m":"RF","g":"control","x":11.7,"d":20},
    {"t":"d","p":"PSY-NV","m":"RF","g":"control","x":13.1,"d":13},
    {"t":"d","p":"PSY-NV","m":"RF","g":"control","x":14.5,"d":8},
    {"t":"d","p":"PSY-NV","m":"RF","g":"control","x":15.9,"d":5},
    {"t":"d","p":"PSY-NV","m":"RF","g":"control","x":18.7,"d":2.7},
    {"t":"d","p":"PSY-NV","m":"RF","g":"control","x":21.5,"d":1.5},
    {"t":"d","p":"PSY-NV","m":"RF","g":"control","x":24.3,"d":0.7},
    {"t":"d","p":"PSY-NV","m":"RF","g":"control","x":27,"d":0},
    {"t":"d","p":"PSY-NV","m":"RF","g":"control","x":45,"d":0},

    {"t":"d","p":"PSY-NV","m":"RF","g":"PSY-NV","x":-24.2,"d":0},
    {"t":"d","p":"PSY-NV","m":"RF","g":"PSY-NV","x":-17.2,"d":0.7},
    {"t":"d","p":"PSY-NV","m":"RF","g":"PSY-NV","x":-15.4,"d":3},
    {"t":"d","p":"PSY-NV","m":"RF","g":"PSY-NV","x":-13.6,"d":6.7},
    {"t":"d","p":"PSY-NV","m":"RF","g":"PSY-NV","x":-11.8,"d":14},
    {"t":"d","p":"PSY-NV","m":"RF","g":"PSY-NV","x":-10.1,"d":23},
    {"t":"d","p":"PSY-NV","m":"RF","g":"PSY-NV","x":-8.7,"d":31},
    {"t":"d","p":"PSY-NV","m":"RF","g":"PSY-NV","x":-7.3,"d":38},
    {"t":"d","p":"PSY-NV","m":"RF","g":"PSY-NV","x":-6.2,"d":46},
    {"t":"d","p":"PSY-NV","m":"RF","g":"PSY-NV","x":-5.2,"d":52},
    {"t":"d","p":"PSY-NV","m":"RF","g":"PSY-NV","x":-3.1,"d":57},
    {"t":"d","p":"PSY-NV","m":"RF","g":"PSY-NV","x":-1,"d":67},
    {"t":"d","p":"PSY-NV","m":"RF","g":"PSY-NV","x":0,"d":75},
    {"t":"d","p":"PSY-NV","m":"RF","g":"PSY-NV","x":1.1,"d":85},
    {"t":"d","p":"PSY-NV","m":"RF","g":"PSY-NV","x":2.3,"d":91},
    {"t":"d","p":"PSY-NV","m":"RF","g":"PSY-NV","x":3.6,"d":95},
    {"t":"d","p":"PSY-NV","m":"RF","g":"PSY-NV","x":4.5,"d":92},
    {"t":"d","p":"PSY-NV","m":"RF","g":"PSY-NV","x":5.3,"d":85},
    {"t":"d","p":"PSY-NV","m":"RF","g":"PSY-NV","x":6.3,"d":75},
    {"t":"d","p":"PSY-NV","m":"RF","g":"PSY-NV","x":7.4,"d":63},
    {"t":"d","p":"PSY-NV","m":"RF","g":"PSY-NV","x":8.5,"d":50},
    {"t":"d","p":"PSY-NV","m":"RF","g":"PSY-NV","x":9.6,"d":38},
    {"t":"d","p":"PSY-NV","m":"RF","g":"PSY-NV","x":10.6,"d":29},
    {"t":"d","p":"PSY-NV","m":"RF","g":"PSY-NV","x":11.7,"d":22},
    {"t":"d","p":"PSY-NV","m":"RF","g":"PSY-NV","x":13.1,"d":16},
    {"t":"d","p":"PSY-NV","m":"RF","g":"PSY-NV","x":14.5,"d":12},
    {"t":"d","p":"PSY-NV","m":"RF","g":"PSY-NV","x":16.2,"d":9},
    {"t":"d","p":"PSY-NV","m":"RF","g":"PSY-NV","x":18,"d":6.7},
    {"t":"d","p":"PSY-NV","m":"RF","g":"PSY-NV","x":19.8,"d":5},
    {"t":"d","p":"PSY-NV","m":"RF","g":"PSY-NV","x":21.5,"d":4.3},
    {"t":"d","p":"PSY-NV","m":"RF","g":"PSY-NV","x":23,"d":4.7},
    {"t":"d","p":"PSY-NV","m":"RF","g":"PSY-NV","x":24.3,"d":5},
    {"t":"d","p":"PSY-NV","m":"RF","g":"PSY-NV","x":25.7,"d":3.5},
    {"t":"d","p":"PSY-NV","m":"RF","g":"PSY-NV","x":27.2,"d":2.3},
    {"t":"d","p":"PSY-NV","m":"RF","g":"PSY-NV","x":29.3,"d":2},
    {"t":"d","p":"PSY-NV","m":"RF","g":"PSY-NV","x":31.4,"d":1.7},
    {"t":"d","p":"PSY-NV","m":"RF","g":"PSY-NV","x":33.5,"d":1},
    {"t":"d","p":"PSY-NV","m":"RF","g":"PSY-NV","x":35.6,"d":0.5},
    {"t":"d","p":"PSY-NV","m":"RF","g":"PSY-NV","x":38,"d":0},
    {"t":"d","p":"PSY-NV","m":"RF","g":"PSY-NV","x":45,"d":0},

    {"t":"d","p":"PSY-V","m":"XGB_std","g":"control","x":-19.2,"d":0},
    {"t":"d","p":"PSY-V","m":"XGB_std","g":"control","x":-14.3,"d":1},
    {"t":"d","p":"PSY-V","m":"XGB_std","g":"control","x":-13.2,"d":3},
    {"t":"d","p":"PSY-V","m":"XGB_std","g":"control","x":-12.2,"d":6},
    {"t":"d","p":"PSY-V","m":"XGB_std","g":"control","x":-11.1,"d":15},
    {"t":"d","p":"PSY-V","m":"XGB_std","g":"control","x":-10.1,"d":27},
    {"t":"d","p":"PSY-V","m":"XGB_std","g":"control","x":-8,"d":40},
    {"t":"d","p":"PSY-V","m":"XGB_std","g":"control","x":-5.8,"d":53},
    {"t":"d","p":"PSY-V","m":"XGB_std","g":"control","x":-4.7,"d":61},
    {"t":"d","p":"PSY-V","m":"XGB_std","g":"control","x":-3.7,"d":68},
    {"t":"d","p":"PSY-V","m":"XGB_std","g":"control","x":-2,"d":72},
    {"t":"d","p":"PSY-V","m":"XGB_std","g":"control","x":-1.1,"d":70},
    {"t":"d","p":"PSY-V","m":"XGB_std","g":"control","x":-0.2,"d":65},
    {"t":"d","p":"PSY-V","m":"XGB_std","g":"control","x":0.8,"d":59},
    {"t":"d","p":"PSY-V","m":"XGB_std","g":"control","x":1.9,"d":52},
    {"t":"d","p":"PSY-V","m":"XGB_std","g":"control","x":4,"d":40},
    {"t":"d","p":"PSY-V","m":"XGB_std","g":"control","x":6.1,"d":30},
    {"t":"d","p":"PSY-V","m":"XGB_std","g":"control","x":8.2,"d":23},
    {"t":"d","p":"PSY-V","m":"XGB_std","g":"control","x":10.3,"d":18},
    {"t":"d","p":"PSY-V","m":"XGB_std","g":"control","x":12.4,"d":12},
    {"t":"d","p":"PSY-V","m":"XGB_std","g":"control","x":13.8,"d":8},
    {"t":"d","p":"PSY-V","m":"XGB_std","g":"control","x":15.3,"d":5},
    {"t":"d","p":"PSY-V","m":"XGB_std","g":"control","x":17,"d":3},
    {"t":"d","p":"PSY-V","m":"XGB_std","g":"control","x":18.8,"d":1.7},
    {"t":"d","p":"PSY-V","m":"XGB_std","g":"control","x":23,"d":0.5},
    {"t":"d","p":"PSY-V","m":"XGB_std","g":"control","x":26,"d":0},
    {"t":"d","p":"PSY-V","m":"XGB_std","g":"control","x":33.5,"d":0},

    {"t":"d","p":"PSY-V","m":"XGB_std","g":"PSY-V","x":-19.2,"d":0},
    {"t":"d","p":"PSY-V","m":"XGB_std","g":"PSY-V","x":-12.2,"d":1},
    {"t":"d","p":"PSY-V","m":"XGB_std","g":"PSY-V","x":-10.7,"d":5},
    {"t":"d","p":"PSY-V","m":"XGB_std","g":"PSY-V","x":-9.3,"d":10},
    {"t":"d","p":"PSY-V","m":"XGB_std","g":"PSY-V","x":-6.5,"d":13},
    {"t":"d","p":"PSY-V","m":"XGB_std","g":"PSY-V","x":-5,"d":18},
    {"t":"d","p":"PSY-V","m":"XGB_std","g":"PSY-V","x":-3.7,"d":27},
    {"t":"d","p":"PSY-V","m":"XGB_std","g":"PSY-V","x":-2.6,"d":37},
    {"t":"d","p":"PSY-V","m":"XGB_std","g":"PSY-V","x":-1.6,"d":48},
    {"t":"d","p":"PSY-V","m":"XGB_std","g":"PSY-V","x":-0.5,"d":58},
    {"t":"d","p":"PSY-V","m":"XGB_std","g":"PSY-V","x":0.5,"d":68},
    {"t":"d","p":"PSY-V","m":"XGB_std","g":"PSY-V","x":1.6,"d":75},
    {"t":"d","p":"PSY-V","m":"XGB_std","g":"PSY-V","x":2.4,"d":79},
    {"t":"d","p":"PSY-V","m":"XGB_std","g":"PSY-V","x":3,"d":80},
    {"t":"d","p":"PSY-V","m":"XGB_std","g":"PSY-V","x":3.8,"d":78},
    {"t":"d","p":"PSY-V","m":"XGB_std","g":"PSY-V","x":4.7,"d":70},
    {"t":"d","p":"PSY-V","m":"XGB_std","g":"PSY-V","x":5.7,"d":60},
    {"t":"d","p":"PSY-V","m":"XGB_std","g":"PSY-V","x":6.8,"d":50},
    {"t":"d","p":"PSY-V","m":"XGB_std","g":"PSY-V","x":7.8,"d":44},
    {"t":"d","p":"PSY-V","m":"XGB_std","g":"PSY-V","x":8.9,"d":40},
    {"t":"d","p":"PSY-V","m":"XGB_std","g":"PSY-V","x":11,"d":30},
    {"t":"d","p":"PSY-V","m":"XGB_std","g":"PSY-V","x":13.1,"d":22},
    {"t":"d","p":"PSY-V","m":"XGB_std","g":"PSY-V","x":14.5,"d":17},
    {"t":"d","p":"PSY-V","m":"XGB_std","g":"PSY-V","x":16,"d":13},
    {"t":"d","p":"PSY-V","m":"XGB_std","g":"PSY-V","x":17.4,"d":9.5},
    {"t":"d","p":"PSY-V","m":"XGB_std","g":"PSY-V","x":18.8,"d":7},
    {"t":"d","p":"PSY-V","m":"XGB_std","g":"PSY-V","x":20.2,"d":6.5},
    {"t":"d","p":"PSY-V","m":"XGB_std","g":"PSY-V","x":21.6,"d":6},
    {"t":"d","p":"PSY-V","m":"XGB_std","g":"PSY-V","x":23,"d":3.5},
    {"t":"d","p":"PSY-V","m":"XGB_std","g":"PSY-V","x":24.4,"d":1.7},
    {"t":"d","p":"PSY-V","m":"XGB_std","g":"PSY-V","x":27.2,"d":0.3},
    {"t":"d","p":"PSY-V","m":"XGB_std","g":"PSY-V","x":29,"d":0},
    {"t":"d","p":"PSY-V","m":"XGB_std","g":"PSY-V","x":33.5,"d":0},

    {"t":"d","p":"PSY-V","m":"XGB_opt","g":"control","x":-19.2,"d":0},
    {"t":"d","p":"PSY-V","m":"XGB_opt","g":"control","x":-15.7,"d":1},
    {"t":"d","p":"PSY-V","m":"XGB_opt","g":"control","x":-14.3,"d":5},
    {"t":"d","p":"PSY-V","m":"XGB_opt","g":"control","x":-12.9,"d":11},
    {"t":"d","p":"PSY-V","m":"XGB_opt","g":"control","x":-11.5,"d":18},
    {"t":"d","p":"PSY-V","m":"XGB_opt","g":"control","x":-10.1,"d":24},
    {"t":"d","p":"PSY-V","m":"XGB_opt","g":"control","x":-8,"d":24},
    {"t":"d","p":"PSY-V","m":"XGB_opt","g":"control","x":-6.5,"d":27},
    {"t":"d","p":"PSY-V","m":"XGB_opt","g":"control","x":-5.4,"d":36},
    {"t":"d","p":"PSY-V","m":"XGB_opt","g":"control","x":-4.4,"d":47},
    {"t":"d","p":"PSY-V","m":"XGB_opt","g":"control","x":-3.2,"d":58},
    {"t":"d","p":"PSY-V","m":"XGB_opt","g":"control","x":-2,"d":67},
    {"t":"d","p":"PSY-V","m":"XGB_opt","g":"control","x":-1.1,"d":63},
    {"t":"d","p":"PSY-V","m":"XGB_opt","g":"control","x":-0.2,"d":57},
    {"t":"d","p":"PSY-V","m":"XGB_opt","g":"control","x":1.9,"d":51},
    {"t":"d","p":"PSY-V","m":"XGB_opt","g":"control","x":4.7,"d":44},
    {"t":"d","p":"PSY-V","m":"XGB_opt","g":"control","x":7.5,"d":34},
    {"t":"d","p":"PSY-V","m":"XGB_opt","g":"control","x":8.9,"d":27},
    {"t":"d","p":"PSY-V","m":"XGB_opt","g":"control","x":10.3,"d":21},
    {"t":"d","p":"PSY-V","m":"XGB_opt","g":"control","x":11.7,"d":14},
    {"t":"d","p":"PSY-V","m":"XGB_opt","g":"control","x":13.1,"d":7},
    {"t":"d","p":"PSY-V","m":"XGB_opt","g":"control","x":14.5,"d":4},
    {"t":"d","p":"PSY-V","m":"XGB_opt","g":"control","x":16,"d":2.3},
    {"t":"d","p":"PSY-V","m":"XGB_opt","g":"control","x":18,"d":1},
    {"t":"d","p":"PSY-V","m":"XGB_opt","g":"control","x":20.2,"d":0.5},
    {"t":"d","p":"PSY-V","m":"XGB_opt","g":"control","x":23,"d":0},
    {"t":"d","p":"PSY-V","m":"XGB_opt","g":"control","x":33.5,"d":0},

    {"t":"d","p":"PSY-V","m":"XGB_opt","g":"PSY-V","x":-19.2,"d":0},
    {"t":"d","p":"PSY-V","m":"XGB_opt","g":"PSY-V","x":-13.6,"d":1.5},
    {"t":"d","p":"PSY-V","m":"XGB_opt","g":"PSY-V","x":-10.1,"d":4},
    {"t":"d","p":"PSY-V","m":"XGB_opt","g":"PSY-V","x":-6.5,"d":6},
    {"t":"d","p":"PSY-V","m":"XGB_opt","g":"PSY-V","x":-5.1,"d":13},
    {"t":"d","p":"PSY-V","m":"XGB_opt","g":"PSY-V","x":-3.7,"d":24},
    {"t":"d","p":"PSY-V","m":"XGB_opt","g":"PSY-V","x":-2.6,"d":34},
    {"t":"d","p":"PSY-V","m":"XGB_opt","g":"PSY-V","x":-1.6,"d":44},
    {"t":"d","p":"PSY-V","m":"XGB_opt","g":"PSY-V","x":-0.5,"d":54},
    {"t":"d","p":"PSY-V","m":"XGB_opt","g":"PSY-V","x":0.5,"d":64},
    {"t":"d","p":"PSY-V","m":"XGB_opt","g":"PSY-V","x":1.6,"d":69},
    {"t":"d","p":"PSY-V","m":"XGB_opt","g":"PSY-V","x":2.6,"d":71},
    {"t":"d","p":"PSY-V","m":"XGB_opt","g":"PSY-V","x":3.6,"d":69},
    {"t":"d","p":"PSY-V","m":"XGB_opt","g":"PSY-V","x":4.7,"d":65},
    {"t":"d","p":"PSY-V","m":"XGB_opt","g":"PSY-V","x":5.7,"d":60},
    {"t":"d","p":"PSY-V","m":"XGB_opt","g":"PSY-V","x":6.8,"d":54},
    {"t":"d","p":"PSY-V","m":"XGB_opt","g":"PSY-V","x":7.9,"d":47},
    {"t":"d","p":"PSY-V","m":"XGB_opt","g":"PSY-V","x":8.9,"d":41},
    {"t":"d","p":"PSY-V","m":"XGB_opt","g":"PSY-V","x":10.3,"d":32},
    {"t":"d","p":"PSY-V","m":"XGB_opt","g":"PSY-V","x":11.8,"d":24},
    {"t":"d","p":"PSY-V","m":"XGB_opt","g":"PSY-V","x":13.2,"d":17},
    {"t":"d","p":"PSY-V","m":"XGB_opt","g":"PSY-V","x":14.6,"d":12},
    {"t":"d","p":"PSY-V","m":"XGB_opt","g":"PSY-V","x":16,"d":10},
    {"t":"d","p":"PSY-V","m":"XGB_opt","g":"PSY-V","x":17.4,"d":9},
    {"t":"d","p":"PSY-V","m":"XGB_opt","g":"PSY-V","x":18.5,"d":9.5},
    {"t":"d","p":"PSY-V","m":"XGB_opt","g":"PSY-V","x":19.5,"d":10},
    {"t":"d","p":"PSY-V","m":"XGB_opt","g":"PSY-V","x":20.5,"d":7},
    {"t":"d","p":"PSY-V","m":"XGB_opt","g":"PSY-V","x":21.6,"d":4.7},
    {"t":"d","p":"PSY-V","m":"XGB_opt","g":"PSY-V","x":23,"d":3.6},
    {"t":"d","p":"PSY-V","m":"XGB_opt","g":"PSY-V","x":24.4,"d":3.3},
    {"t":"d","p":"PSY-V","m":"XGB_opt","g":"PSY-V","x":25.8,"d":3.7},
    {"t":"d","p":"PSY-V","m":"XGB_opt","g":"PSY-V","x":27.2,"d":4},
    {"t":"d","p":"PSY-V","m":"XGB_opt","g":"PSY-V","x":28.6,"d":2.5},
    {"t":"d","p":"PSY-V","m":"XGB_opt","g":"PSY-V","x":30,"d":0.7},
    {"t":"d","p":"PSY-V","m":"XGB_opt","g":"PSY-V","x":31.5,"d":0},
    {"t":"d","p":"PSY-V","m":"XGB_opt","g":"PSY-V","x":33.5,"d":0},

    {"t":"d","p":"PSY-V","m":"RF","g":"control","x":-19.2,"d":0},
    {"t":"d","p":"PSY-V","m":"RF","g":"control","x":-15,"d":1},
    {"t":"d","p":"PSY-V","m":"RF","g":"control","x":-13.2,"d":6},
    {"t":"d","p":"PSY-V","m":"RF","g":"control","x":-11.5,"d":15},
    {"t":"d","p":"PSY-V","m":"RF","g":"control","x":-10,"d":21},
    {"t":"d","p":"PSY-V","m":"RF","g":"control","x":-8.6,"d":25},
    {"t":"d","p":"PSY-V","m":"RF","g":"control","x":-6.5,"d":30},
    {"t":"d","p":"PSY-V","m":"RF","g":"control","x":-5.1,"d":38},
    {"t":"d","p":"PSY-V","m":"RF","g":"control","x":-3.7,"d":47},
    {"t":"d","p":"PSY-V","m":"RF","g":"control","x":-2.8,"d":57},
    {"t":"d","p":"PSY-V","m":"RF","g":"control","x":-2,"d":70},
    {"t":"d","p":"PSY-V","m":"RF","g":"control","x":-1.1,"d":83},
    {"t":"d","p":"PSY-V","m":"RF","g":"control","x":-0.2,"d":95},
    {"t":"d","p":"PSY-V","m":"RF","g":"control","x":0.5,"d":89},
    {"t":"d","p":"PSY-V","m":"RF","g":"control","x":1.2,"d":80},
    {"t":"d","p":"PSY-V","m":"RF","g":"control","x":2.2,"d":66},
    {"t":"d","p":"PSY-V","m":"RF","g":"control","x":3.3,"d":53},
    {"t":"d","p":"PSY-V","m":"RF","g":"control","x":4.4,"d":45},
    {"t":"d","p":"PSY-V","m":"RF","g":"control","x":5.4,"d":40},
    {"t":"d","p":"PSY-V","m":"RF","g":"control","x":7.5,"d":30},
    {"t":"d","p":"PSY-V","m":"RF","g":"control","x":8.9,"d":20},
    {"t":"d","p":"PSY-V","m":"RF","g":"control","x":10,"d":12},
    {"t":"d","p":"PSY-V","m":"RF","g":"control","x":11,"d":5},
    {"t":"d","p":"PSY-V","m":"RF","g":"control","x":13.1,"d":1},
    {"t":"d","p":"PSY-V","m":"RF","g":"control","x":15,"d":0},
    {"t":"d","p":"PSY-V","m":"RF","g":"control","x":33.5,"d":0},

    {"t":"d","p":"PSY-V","m":"RF","g":"PSY-V","x":-19.2,"d":0},
    {"t":"d","p":"PSY-V","m":"RF","g":"PSY-V","x":-11.5,"d":1},
    {"t":"d","p":"PSY-V","m":"RF","g":"PSY-V","x":-8,"d":3.3},
    {"t":"d","p":"PSY-V","m":"RF","g":"PSY-V","x":-6.5,"d":7},
    {"t":"d","p":"PSY-V","m":"RF","g":"PSY-V","x":-5.1,"d":13},
    {"t":"d","p":"PSY-V","m":"RF","g":"PSY-V","x":-3.7,"d":25},
    {"t":"d","p":"PSY-V","m":"RF","g":"PSY-V","x":-2.3,"d":40},
    {"t":"d","p":"PSY-V","m":"RF","g":"PSY-V","x":-1.2,"d":51},
    {"t":"d","p":"PSY-V","m":"RF","g":"PSY-V","x":-0.2,"d":60},
    {"t":"d","p":"PSY-V","m":"RF","g":"PSY-V","x":0.8,"d":66},
    {"t":"d","p":"PSY-V","m":"RF","g":"PSY-V","x":1.9,"d":69},
    {"t":"d","p":"PSY-V","m":"RF","g":"PSY-V","x":4,"d":68},
    {"t":"d","p":"PSY-V","m":"RF","g":"PSY-V","x":6.8,"d":68},
    {"t":"d","p":"PSY-V","m":"RF","g":"PSY-V","x":7.5,"d":64},
    {"t":"d","p":"PSY-V","m":"RF","g":"PSY-V","x":8.2,"d":57},
    {"t":"d","p":"PSY-V","m":"RF","g":"PSY-V","x":9.2,"d":43},
    {"t":"d","p":"PSY-V","m":"RF","g":"PSY-V","x":10.3,"d":27},
    {"t":"d","p":"PSY-V","m":"RF","g":"PSY-V","x":11.3,"d":18},
    {"t":"d","p":"PSY-V","m":"RF","g":"PSY-V","x":12.4,"d":12},
    {"t":"d","p":"PSY-V","m":"RF","g":"PSY-V","x":13.5,"d":9},
    {"t":"d","p":"PSY-V","m":"RF","g":"PSY-V","x":14.6,"d":8},
    {"t":"d","p":"PSY-V","m":"RF","g":"PSY-V","x":15.8,"d":9.5},
    {"t":"d","p":"PSY-V","m":"RF","g":"PSY-V","x":17,"d":10},
    {"t":"d","p":"PSY-V","m":"RF","g":"PSY-V","x":18.6,"d":8},
    {"t":"d","p":"PSY-V","m":"RF","g":"PSY-V","x":20.2,"d":6},
    {"t":"d","p":"PSY-V","m":"RF","g":"PSY-V","x":21.6,"d":5},
    {"t":"d","p":"PSY-V","m":"RF","g":"PSY-V","x":23,"d":4},
    {"t":"d","p":"PSY-V","m":"RF","g":"PSY-V","x":24.8,"d":2},
    {"t":"d","p":"PSY-V","m":"RF","g":"PSY-V","x":26.5,"d":0.7},
    {"t":"d","p":"PSY-V","m":"RF","g":"PSY-V","x":28,"d":0},
    {"t":"d","p":"PSY-V","m":"RF","g":"PSY-V","x":33.5,"d":0}
  ]},
  "facet": {"column": {"field": "p", "type": "nominal", "sort": ["NPV", "PSY-NV", "PSY-V"],
    "header": {"title": null, "labelFontSize": 20, "labelColor": "#1A1A1A", "labelFont": "Liberation Sans", "labelPadding": 1}}},
  "spacing": 5,
  "spec": {
    "width": 358,
    "height": 509,
    "encoding": {
      "x": {"field": "x", "type": "quantitative",
        "scale": {"domain": [-27.85, 47.68], "nice": false, "zero": false},
        "axis": {"title": null, "values": [-25, -12.5, 0, 12.5, 25, 37.5],
          "labelExpr": "datum.value % 25 === 0 ? '' + datum.value : ''",
          "labelAngle": 270, "labelFontSize": 20, "labelColor": "#4D4D4D", "labelPadding": 6,
          "labelOverlap": false, "labelFlush": false,
          "ticks": false, "domain": false, "grid": true, "gridColor": "#EBEBEB", "gridWidth": 1.2}}
    },
    "layer": [
      {
        "transform": [{"filter": "datum.t === 'mean'"}],
        "mark": {"type": "rule", "strokeDash": [4, 3], "strokeWidth": 1.5},
        "encoding": {
          "color": {"field": "g", "type": "nominal",
            "scale": {"domain": ["control", "NPV", "PSY-NV", "PSY-V"], "range": ["#A8A8A8", "#E78AC3", "#FC8D62", "#FFD92F"]},
            "legend": null}
        }
      },
      {
        "transform": [
          {"filter": "datum.t === 'd' && datum.g === 'control'"},
          {"calculate": "(datum.m === 'XGB_std' ? 3 : datum.m === 'XGB_opt' ? 2 : 1)", "as": "base"},
          {"calculate": "datum.base + datum.d / 158.3", "as": "top"}
        ],
        "mark": {"type": "area", "fillOpacity": 0.3},
        "encoding": {
          "y": {"field": "top", "type": "quantitative",
            "scale": {"domain": [0.398, 3.613], "nice": false, "zero": false},
            "axis": {"title": "BAG", "values": [1, 2, 3],
              "labelExpr": "datum.value === 3 ? 'XGB_std' : datum.value === 2 ? 'XGB_opt' : 'RF'",
              "labelFontSize": 20, "labelColor": "#4D4D4D", "labelPadding": 4,
              "titleFontSize": 24, "titleFontWeight": "normal", "titleColor": "#000000", "titlePadding": 9,
              "ticks": false, "domain": false, "grid": true, "gridColor": "#EBEBEB", "gridWidth": 1.2}},
          "y2": {"field": "base"},
          "color": {"field": "g", "type": "nominal", "legend": null},
          "detail": {"field": "m"}
        }
      },
      {
        "transform": [
          {"filter": "datum.t === 'd' && datum.g === 'control'"},
          {"calculate": "(datum.m === 'XGB_std' ? 3 : datum.m === 'XGB_opt' ? 2 : 1)", "as": "base"},
          {"calculate": "datum.base + datum.d / 158.3", "as": "top"}
        ],
        "mark": {"type": "line", "strokeWidth": 1},
        "encoding": {
          "y": {"field": "top", "type": "quantitative"},
          "color": {"field": "g", "type": "nominal", "legend": null},
          "detail": {"field": "m"}
        }
      },
      {
        "transform": [
          {"filter": "datum.t === 'med' && datum.g === 'control'"},
          {"calculate": "(datum.m === 'XGB_std' ? 3 : datum.m === 'XGB_opt' ? 2 : 1)", "as": "base"},
          {"calculate": "datum.base + datum.d / 158.3", "as": "top"}
        ],
        "mark": {"type": "rule", "strokeWidth": 2},
        "encoding": {
          "y": {"field": "base", "type": "quantitative"},
          "y2": {"field": "top"},
          "color": {"field": "g", "type": "nominal", "legend": null}
        }
      },
      {
        "transform": [
          {"filter": "datum.t === 'd' && datum.g !== 'control'"},
          {"calculate": "(datum.m === 'XGB_std' ? 3 : datum.m === 'XGB_opt' ? 2 : 1)", "as": "base"},
          {"calculate": "datum.base + datum.d / 158.3", "as": "top"}
        ],
        "mark": {"type": "area", "fillOpacity": 0.36},
        "encoding": {
          "y": {"field": "top", "type": "quantitative"},
          "y2": {"field": "base"},
          "color": {"field": "g", "type": "nominal", "legend": null},
          "detail": {"field": "m"}
        }
      },
      {
        "transform": [
          {"filter": "datum.t === 'd' && datum.g !== 'control'"},
          {"calculate": "(datum.m === 'XGB_std' ? 3 : datum.m === 'XGB_opt' ? 2 : 1)", "as": "base"},
          {"calculate": "datum.base + datum.d / 158.3", "as": "top"}
        ],
        "mark": {"type": "line", "strokeWidth": 1.1},
        "encoding": {
          "y": {"field": "top", "type": "quantitative"},
          "color": {"field": "g", "type": "nominal", "legend": null},
          "detail": {"field": "m"}
        }
      },
      {
        "transform": [
          {"filter": "datum.t === 'med' && datum.g !== 'control'"},
          {"calculate": "(datum.m === 'XGB_std' ? 3 : datum.m === 'XGB_opt' ? 2 : 1)", "as": "base"},
          {"calculate": "datum.base + datum.d / 158.3", "as": "top"}
        ],
        "mark": {"type": "rule", "strokeWidth": 2},
        "encoding": {
          "y": {"field": "base", "type": "quantitative"},
          "y2": {"field": "top"},
          "color": {"field": "g", "type": "nominal", "legend": null}
        }
      },
      {
        "transform": [{"filter": "datum.t === 'diff'"}, {"calculate": "0.75", "as": "row"}],
        "mark": {"type": "rule", "strokeWidth": 1.5, "color": "#BEBEBE"},
        "encoding": {
          "x2": {"field": "x2"},
          "y": {"field": "row", "type": "quantitative"}
        }
      },
      {
        "transform": [{"filter": "datum.t === 'mean'"}, {"calculate": "0.75", "as": "row"}],
        "mark": {"type": "circle", "size": 85, "opacity": 1, "color": "#BEBEBE"},
        "encoding": {
          "y": {"field": "row", "type": "quantitative"}
        }
      },
      {
        "transform": [{"filter": "datum.t === 'diff'"}, {"calculate": "0.75", "as": "row"}],
        "mark": {"type": "text", "align": "right", "baseline": "middle", "dx": -6, "fontSize": 28, "color": "#BEBEBE"},
        "encoding": {
          "y": {"field": "row", "type": "quantitative"},
          "text": {"field": "lab"}
        }
      },
      {
        "transform": [
          {"filter": "datum.t === 'sig'"},
          {"calculate": "(datum.m === 'XGB_std' ? 3 : datum.m === 'XGB_opt' ? 2 : 1)", "as": "base"}
        ],
        "mark": {"type": "text", "align": "center", "baseline": "alphabetic", "dy": -6, "fontSize": 28, "color": "#000000"},
        "encoding": {
          "y": {"field": "base", "type": "quantitative"},
          "text": {"field": "lab"}
        }
      }
    ]
  }
}
